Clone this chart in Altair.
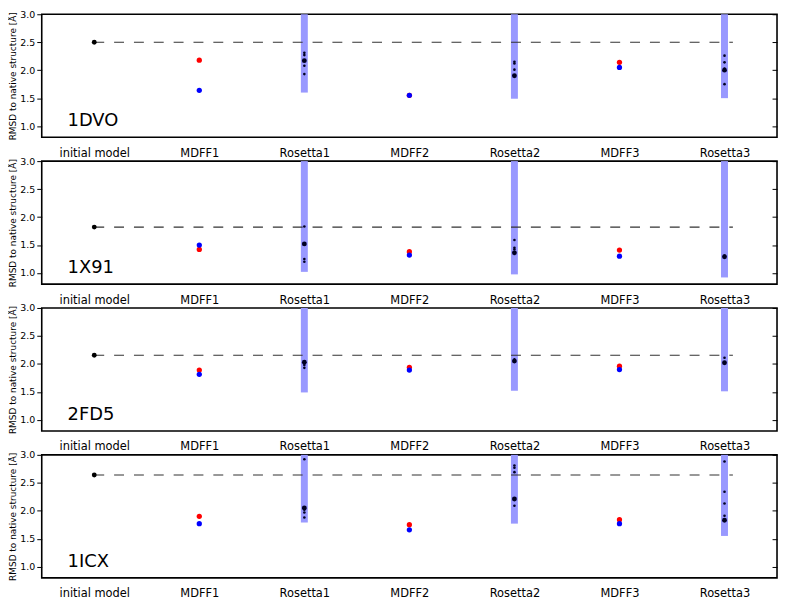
import json
import altair as alt
import pandas as pd

categories = ["initial model", "MDFF1", "Rosetta1", "MDFF2", "Rosetta2", "MDFF3", "Rosetta3"]
proteins = ["1DVO", "1X91", "2FD5", "1ICX"]

initial_rmsd = [2.50, 1.82, 2.155, 2.64]
dash_end = 6.08

mdff_x = [1, 3, 5]
rosetta_x = [2, 4, 6]

mdff_red = [[2.18, 1.55, 2.14], [1.42, 1.38, 1.41], [1.89, 1.94, 1.96], [1.90, 1.75, 1.84]]
mdff_blue = [[1.64, 1.55, 2.05], [1.50, 1.32, 1.30], [1.815, 1.89, 1.90], [1.77, 1.66, 1.77]]

range_low = [[1.60, 1.49, 1.50], [1.02, 0.975, 0.92], [1.49, 1.52, 1.51], [1.79, 1.77, 1.55]]
range_high = [[3.0, 3.0, 3.0], [3.0, 3.0, 3.0], [3.0, 3.0, 3.0], [3.0, 3.0, 3.0]]

rosetta_best = [[2.17, 1.90, 2.00], [1.52, 1.36, 1.29], [2.03, 2.05, 2.02], [2.05, 2.21, 1.83]]
rosetta_other = [
    [[2.31, 2.27, 2.08, 1.93], [2.15, 2.12, 2.01], [2.26, 2.14, 2.03, 1.75]],
    [[1.83, 1.25, 1.20], [1.59, 1.45, 1.42], [1.31]],
    [[1.98, 1.93], [2.08], [2.11]],
    [[2.92, 2.02, 1.97, 1.88], [2.81, 2.77, 2.69, 2.09], [2.88, 2.34, 2.13, 1.91]],
]

y_ticks = [1.0, 1.5, 2.0, 2.5, 3.0]
label_expr = json.dumps(categories) + "[datum.value]"

W, H = 741, 124
Y_SCALE = alt.Scale(domain=[0.8, 3.0], nice=False, zero=False)


def xenc(field="x"):
    return alt.X(
        f"{field}:Q",
        title=None,
        scale=alt.Scale(domain=[-0.5, 6.5], nice=False, zero=False),
        axis=alt.Axis(values=list(range(7)), labelExpr=label_expr, ticks=False,
                      domain=False, grid=False, labelPadding=10, labelFontSize=11.5,
                      labelColor="black", labelFont="DejaVu Sans"),
    )


def yenc(field="y"):
    return alt.Y(
        f"{field}:Q",
        title="RMSD to native structure [Å]",
        scale=Y_SCALE,
        axis=alt.Axis(orient="left", values=y_ticks, format=".1f", tickSize=5, labelPadding=2,
                      domain=False, grid=False, labelFontSize=9.5, titleFontSize=9,
                      titleFontWeight="normal", titlePadding=2, labelColor="black",
                      titleColor="black", tickColor="black"),
    )


panels = []
for i, name in enumerate(proteins):
    df_init = pd.DataFrame({"x": [0], "y": [initial_rmsd[i]]})
    df_dash = pd.DataFrame({"x": [0], "x2": [dash_end], "y": [initial_rmsd[i]]})
    df_red = pd.DataFrame({"x": mdff_x, "y": mdff_red[i]})
    df_blue = pd.DataFrame({"x": mdff_x, "y": mdff_blue[i]})
    df_rng = pd.DataFrame({"x": rosetta_x, "y": range_low[i], "y2": range_high[i]})
    df_best = pd.DataFrame({"x": rosetta_x, "y": rosetta_best[i]})
    ox, oy = [], []
    for j, vals in enumerate(rosetta_other[i]):
        for v in vals:
            ox.append(rosetta_x[j])
            oy.append(v)
    df_other = pd.DataFrame({"x": ox, "y": oy})
    df_lab = pd.DataFrame({"label": [name]})

    bars = alt.Chart(df_rng).mark_rule(color="#9999ff", strokeWidth=7, strokeCap="butt").encode(
        x=xenc(), y=yenc(), y2="y2:Q")
    dash = alt.Chart(df_dash).mark_rule(color="#333333", strokeWidth=1.2, strokeDash=[10, 10]).encode(
        x=xenc(), x2="x2:Q", y=yenc())
    init = alt.Chart(df_init).mark_circle(color="black", size=24, opacity=1).encode(x=xenc(), y=yenc())
    red = alt.Chart(df_red).mark_circle(color="#ff0000", size=28, opacity=1).encode(x=xenc(), y=yenc())
    blue = alt.Chart(df_blue).mark_circle(color="#0000ff", size=28, opacity=1).encode(x=xenc(), y=yenc())
    other = alt.Chart(df_other).mark_circle(color="#000022", size=7, opacity=1).encode(x=xenc(), y=yenc())
    best = alt.Chart(df_best).mark_circle(color="#000022", size=24, opacity=1).encode(x=xenc(), y=yenc())
    label = alt.Chart(df_lab).mark_text(align="left", baseline="alphabetic", fontSize=18,
                                        font="DejaVu Sans", color="black").encode(
        text="label:N", x=alt.value(26), y=alt.value(113))
    main = alt.layer(bars, dash, init, red, blue, other, best, label)

    right_axis = alt.Chart(df_init).mark_circle(opacity=0).encode(
        x=xenc(),
        y=alt.Y("y:Q", title=None, scale=Y_SCALE,
                axis=alt.Axis(orient="right", values=y_ticks, labels=False, tickSize=5,
                              offset=-5, domain=False, grid=False, tickColor="black")),
    )

    panel = alt.layer(main, right_axis).resolve_axis(y="independent").properties(width=W, height=H)
    panels.append(panel)

chart = alt.vconcat(*panels, spacing=24, bounds="flush").properties(
    padding={"left": 0, "top": -2, "right": 0, "bottom": 0}
).configure_view(stroke="black", strokeWidth=1.6).configure_axis(
    labelFont="DejaVu Sans", titleFont="DejaVu Sans")

chart.save("out.html", embed_options={"renderer": "svg", "actions": False})
